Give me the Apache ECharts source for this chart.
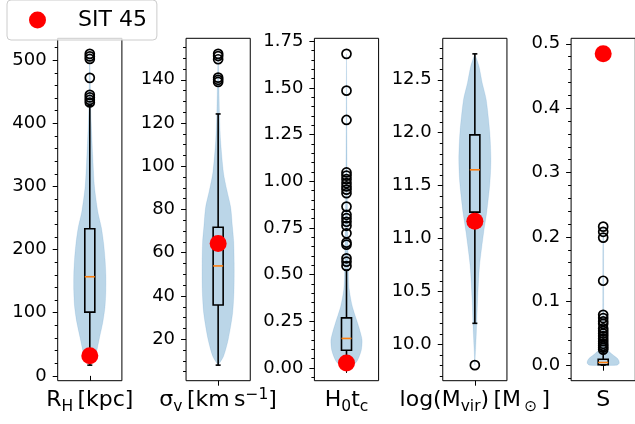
<!DOCTYPE html>
<html>
<head>
<meta charset="utf-8">
<script src="https://cdn.jsdelivr.net/npm/echarts@6/dist/echarts.min.js"></script>
<style>html,body{margin:0;padding:0;background:#fff}#c{width:635px;height:424px}</style>
</head>
<body>
<div id="c"></div>
<script>
// ---- Data ----
// box: [lower whisker, Q1, median, Q3, upper whisker]
const rhBox = [17, 101, 157, 233, 428];
const rhFliers = [510, 506, 502, 472, 445, 441, 437, 433];
const rhSit = 32;
const rhViolinV = [17, 25, 33, 45, 60, 85, 110, 135, 160, 185, 210, 235, 260, 300, 350, 400, 430, 470, 510];
const rhViolinW = [0, 0.25, 0.37, 0.48, 0.6, 0.81, 0.95, 1.0, 1.0, 0.95, 0.86, 0.72, 0.5, 0.29, 0.18, 0.09, 0.05, 0.03, 0];
const rhTicks = [0, 100, 200, 300, 400, 500];

const sgBox = [8, 35.8, 53.9, 71.8, 124.2];
const sgFliers = [152, 151, 149.5, 141, 140, 139];
const sgSit = 64.3;
const sgViolinV = [8, 12, 20, 32, 43, 55, 65, 72, 81, 89, 97, 112, 125, 140, 152];
const sgViolinW = [0, 0.33, 0.63, 0.9, 0.99, 1.0, 0.97, 0.89, 0.78, 0.54, 0.33, 0.15, 0.08, 0.04, 0];
const sgTicks = [20, 40, 60, 80, 100, 120, 140];

const htBox = [0.015, 0.095, 0.158, 0.268, 0.524];
const htFliers = [1.682, 1.485, 1.328, 1.047, 1.03, 1.011, 0.99, 0.972, 0.955, 0.936, 0.864, 0.82, 0.802, 0.783, 0.761, 0.721, 0.671, 0.66, 0.587, 0.569, 0.546];
const htSit = 0.027;
const htViolinV = [0.015, 0.04, 0.095, 0.15, 0.2, 0.24, 0.33, 0.42, 0.5, 0.7, 1.0, 1.3, 1.682];
const htViolinW = [0.4, 0.68, 0.92, 0.97, 0.83, 0.69, 0.36, 0.17, 0.12, 0.08, 0.04, 0.02, 0];
const htTicks = [0, 0.25, 0.5, 0.75, 1.0, 1.25, 1.5, 1.75];

const mvBox = [10.2, 11.25, 11.65, 11.98, 12.745];
const mvFliers = [9.805];
const mvSit = 11.163;
const mvViolinV = [9.805, 10.1, 10.42, 10.74, 11.06, 11.25, 11.53, 11.75, 12.0, 12.31, 12.47, 12.625, 12.745];
const mvViolinW = [0, 0.09, 0.17, 0.29, 0.55, 0.74, 0.94, 1.0, 0.93, 0.71, 0.46, 0.26, 0];
const mvTicks = [10.0, 10.5, 11.0, 11.5, 12.0, 12.5];

const sBox = [0.0009, 0.0015, 0.005, 0.010, 0.023];
const sFliers = [0.216, 0.208, 0.199, 0.132, 0.079, 0.074, 0.069, 0.065, 0.058, 0.054, 0.05, 0.046, 0.042, 0.038, 0.034, 0.031, 0.028, 0.025];
const sSit = 0.4844;
const sViolinV = [0.0009, 0.004, 0.008, 0.0115, 0.015, 0.019, 0.025, 0.035, 0.05, 0.08, 0.13, 0.2, 0.216];
const sViolinW = [0.85, 1.0, 0.97, 0.88, 0.7, 0.5, 0.25, 0.1, 0.05, 0.03, 0.025, 0.02, 0];
const sTicks = [0.0, 0.1, 0.2, 0.3, 0.4, 0.5];

const labels = [
  '{m|R}{s|H}{m|\u2009[kpc]}',
  '{m|σ}{s|v}{m|\u2009[km\u2009s}{sup|−1}{m|]}',
  '{m|H}{s|0}{m|t}{s|c}',
  '{m|log(M}{s|vir}{m|)\u2009[M}{s|\u2009⊙}{m|\u2009]}',
  '{m|S}'
];
const sitName = 'SIT 45';

// ---- Assembly ----
const FONT = 'DejaVu Sans';
const panels = [
  {box: rhBox, fliers: rhFliers, sit: rhSit, vv: rhViolinV, vw: rhViolinW, ticks: rhTicks, dec: 0, minor: 20},
  {box: sgBox, fliers: sgFliers, sit: sgSit, vv: sgViolinV, vw: sgViolinW, ticks: sgTicks, dec: 0, minor: 5},
  {box: htBox, fliers: htFliers, sit: htSit, vv: htViolinV, vw: htViolinW, ticks: htTicks, dec: 2, minor: 0.05},
  {box: mvBox, fliers: mvFliers, sit: mvSit, vv: mvViolinV, vw: mvViolinW, ticks: mvTicks, dec: 1, minor: 0.1},
  {box: sBox, fliers: sFliers, sit: sSit, vv: sViolinV, vw: sViolinW, ticks: sTicks, dec: 1, minor: 0.02}
];

const VIOLIN_HALF = 0.25, BOX_HALF = 0.078, CAP_HALF = 0.039;
const grids = [], xAxes = [], yAxes = [], series = [];

panels.forEach((p, i) => {
  const all = p.box.concat(p.fliers, [p.sit], p.vv);
  const lo = Math.min(...all), hi = Math.max(...all);
  const pad = 0.05 * (hi - lo);
  const ymin = lo - pad, ymax = hi + pad;
  const minorVals = [];
  for (let k = Math.ceil(ymin / p.minor); k * p.minor <= ymax; k++) {
    const v = +(k * p.minor).toFixed(6);
    if (!p.ticks.some(t => Math.abs(t - v) < 1e-9)) minorVals.push(v);
  }
  grids.push({left: 57.7 + 128.35 * i, top: 38.3, width: 64.2, height: 342.4,
    show: true, borderColor: '#000', borderWidth: 1, backgroundColor: 'transparent',
    containLabel: false, outerBoundsMode: 'none'});
  xAxes.push({type: 'value', gridIndex: i, min: 0.5, max: 1.5,
    axisLine: {show: false}, splitLine: {show: false},
    axisTick: {show: true, customValues: [1], length: 5, lineStyle: {color: '#000', width: 1}},
    axisLabel: {show: true, customValues: [1], margin: 6, formatter: () => labels[i],
      rich: {
        m: {fontSize: 22, fontFamily: FONT, color: '#000', lineHeight: 28},
        s: {fontSize: 15.5, fontFamily: FONT, color: '#000', lineHeight: 18, verticalAlign: 'bottom'},
        sup: {fontSize: 15.5, fontFamily: FONT, color: '#000', lineHeight: 16, verticalAlign: 'top'}
      }}});
  yAxes.push({type: 'value', gridIndex: i, position: 'left', offset: 0, min: ymin, max: ymax,
    axisLine: {show: false}, splitLine: {show: false},
    axisTick: {show: true, customValues: p.ticks, length: 5, lineStyle: {color: '#000', width: 1}},
    axisLabel: {show: true, customValues: p.ticks, margin: 11, color: '#000', fontSize: 18, fontFamily: FONT,
      formatter: v => Number(v).toFixed(p.dec)}});
  yAxes.push({type: 'value', gridIndex: i, position: 'left', offset: 0, min: ymin, max: ymax,
    axisLine: {show: false}, splitLine: {show: false}, axisLabel: {show: false},
    axisTick: {show: true, customValues: minorVals, length: 3, lineStyle: {color: '#000', width: 1}}});
  const yi = 2 * i;
  series.push({type: 'custom', xAxisIndex: i, yAxisIndex: yi, silent: true, z: 1, clip: false,
    data: [[1, p.box[2]]],
    renderItem: (params, api) => {
      const pts = [];
      for (let k = 0; k < p.vv.length; k++) pts.push(api.coord([1 + p.vw[k] * VIOLIN_HALF, p.vv[k]]));
      for (let k = p.vv.length - 1; k >= 0; k--) pts.push(api.coord([1 - p.vw[k] * VIOLIN_HALF, p.vv[k]]));
      return {type: 'polygon', shape: {points: pts, smooth: 0.25},
        style: {fill: 'rgba(31,119,180,0.3)', stroke: 'rgba(31,119,180,0.12)', lineWidth: 1}};
    }});
  series.push({type: 'custom', xAxisIndex: i, yAxisIndex: yi, silent: true, z: 2, clip: false,
    data: [[1, p.box[2]]],
    renderItem: (params, api) => {
      const [wl, q1, md, q3, wh] = p.box;
      const c = (x, y) => api.coord([x, y]);
      const a = c(1 - BOX_HALF, q3), b = c(1 + BOX_HALF, q1);
      const ln = (x1, y1, x2, y2, col) => ({type: 'line',
        shape: {x1: x1, y1: y1, x2: x2, y2: y2},
        style: {stroke: col || '#000', lineWidth: 1.6}});
      const cx = c(1, 0)[0];
      const yl = c(1, wl)[1], yh = c(1, wh)[1], y1 = c(1, q1)[1], y3 = c(1, q3)[1], ym = c(1, md)[1];
      const cl = c(1 - CAP_HALF, 0)[0], cr = c(1 + CAP_HALF, 0)[0];
      return {type: 'group', children: [
        ln(cx, yl, cx, y1), ln(cx, y3, cx, yh),
        ln(cl, yl, cr, yl), ln(cl, yh, cr, yh),
        {type: 'rect', shape: {x: a[0], y: a[1], width: b[0] - a[0], height: b[1] - a[1]},
          style: {fill: 'none', stroke: '#000', lineWidth: 1.6}},
        ln(a[0], ym, b[0], ym, '#ff7f0e')
      ]};
    }});
  series.push({type: 'scatter', xAxisIndex: i, yAxisIndex: yi, z: 3, silent: true,
    symbol: 'circle', symbolSize: 9,
    itemStyle: {color: 'rgba(0,0,0,0)', borderColor: '#000', borderWidth: 1.7, opacity: 1},
    data: p.fliers.map(v => [1, v])});
  series.push({type: 'scatter', name: sitName, xAxisIndex: i, yAxisIndex: yi, z: 4, silent: true,
    symbol: 'circle', symbolSize: 17, itemStyle: {color: '#ff0000', opacity: 1},
    data: [[1, p.sit]]});
});

const chart = echarts.init(document.getElementById('c'), null, {renderer: 'canvas'});
chart.setOption({
  animation: false,
  backgroundColor: '#fff',
  legend: {data: [sitName], left: 7, top: 0, orient: 'horizontal', icon: 'circle',
    itemWidth: 17, itemHeight: 17, padding: [9, 10, 9, 22],
    borderColor: '#cccccc', borderWidth: 1, borderRadius: 4, backgroundColor: 'rgba(255,255,255,0.8)',
    selectedMode: false, itemStyle: {opacity: 1},
    textStyle: {fontSize: 22, fontFamily: FONT, color: '#000', lineHeight: 18, padding: [0, 0, 0, 27]}},
  grid: grids, xAxis: xAxes, yAxis: yAxes, series: series
});
</script>
</body>
</html>
